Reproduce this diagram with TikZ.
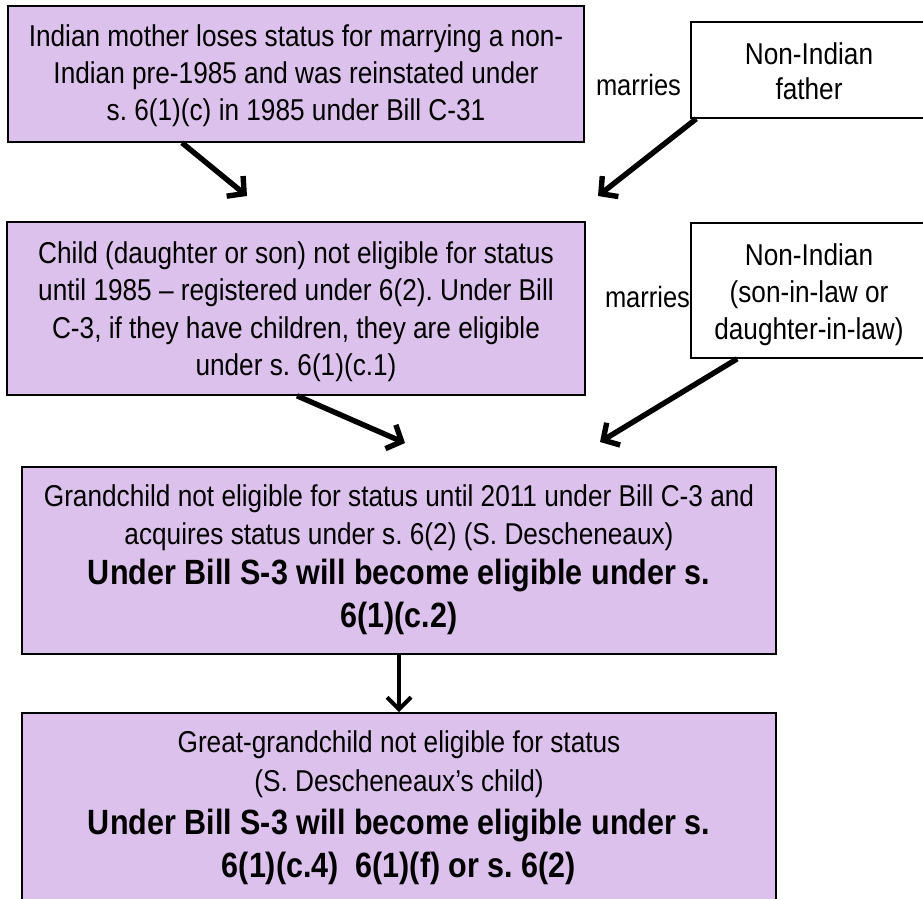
\documentclass[tikz,border=0pt]{standalone}
\usepackage{fontspec}
\usepackage{graphicx}
\setmainfont{Liberation Sans}
\usetikzlibrary{arrows.meta,calc}
\frenchspacing
\definecolor{lav}{RGB}{219,193,235}
\newcommand\stk[1]{\scalebox{1}[1.15]{\begin{tabular}{@{}c@{}}#1\end{tabular}}}
\newcommand\bl{\fontsize{30.5}{37}\selectfont\bfseries}
\tikzset{
  pbox/.style={draw=black, line width=1.6pt, fill=lav, inner sep=0pt},
  wbox/.style={draw=black, line width=1.6pt, fill=white, inner sep=0pt},
  txt/.style={inner sep=0pt, font=\fontsize{26.2}{32.4}\selectfont},
  lbl/.style={inner sep=0pt, anchor=base, font=\fontsize{25.5}{30}\selectfont},
  arr/.style={line width=5.4pt, -{Straight Barb[length=12pt,width=26pt]}},
  varr/.style={line width=4.2pt, -{Straight Barb[length=12pt,width=24pt]}}
}
\begin{document}
\begin{tikzpicture}[x=1pt,y=-1pt]
\useasboundingbox (0,0) rectangle (923,898);
% boxes
\node[pbox, minimum width=576pt, minimum height=136pt] (b1) at (296,74) {};
\node[wbox, minimum width=236pt, minimum height=96pt] (fa) at (809,70) {};
\node[pbox, minimum width=578pt, minimum height=173pt] (b2) at (296,308.5) {};
\node[wbox, minimum width=236pt, minimum height=135pt] (sl) at (809,290.5) {};
\node[pbox, minimum width=754pt, minimum height=187pt] (b3) at (399,560.5) {};
\node[pbox, minimum width=754pt, minimum height=192pt] (b4) at (399,809) {};
% texts
\node[txt] (t1) at (296,76) {\stk{Indian mother loses status for marrying a non-\\Indian pre-1985 and was reinstated under\\s. 6(1)(c) in 1985 under Bill C-31}};
\node[txt, font=\fontsize{26.2}{30.4}\selectfont] (tfa) at (809,75) {\stk{Non-Indian\\father}};
\node[lbl] (m1) at (638.5,95) {\scalebox{1}[1.15]{marries}};
\node[txt] (t2) at (296,312) {\stk{Child (daughter or son) not eligible for status\\until 1985 – registered under 6(2). Under Bill\\C-3, if they have children, they are eligible\\under s. 6(1)(c.1)}};
\node[txt] (tsl) at (809,295) {\stk{Non-Indian\\(son-in-law or\\daughter-in-law)}};
\node[lbl] (m2) at (647.5,307) {\scalebox{1}[1.15]{marries}};
\node[txt] (t3) at (399,559.5) {\stk{Grandchild not eligible for status until 2011 under Bill C-3 and\\acquires status under s. 6(2) (S. Descheneaux)\\[2.4pt]{\bl Under Bill S-3 will become eligible under s.}\\[5pt]{\bl 6(1)(c.2)}}};
\node[txt] (t4) at (399,808) {\stk{Great-grandchild not eligible for status\\[1.5pt](S. Descheneaux’s child)\\[5pt]{\bl Under Bill S-3 will become eligible under s.}\\[5pt]{\bl 6(1)(c.4)\ \ 6(1)(f) or s. 6(2)}}};
% arrow ends
\coordinate (e1) at (247,196);
\coordinate (e2) at (598,196);
\coordinate (e3) at (405,443);
\coordinate (e4) at (600,442);
% arrows
\draw[arr] ($(b1.south)+(-114,0)$) -- (e1);
\draw[arr] ($(fa.south west)+(6,0)$) -- (e2);
\draw[arr] ($(b2.south)+(1,0)$) -- (e3);
\draw[arr] ($(sl.south west)+(47,0)$) -- (e4);
\draw[varr] (b3.south) -- (b4.north);
\end{tikzpicture}
\end{document}
